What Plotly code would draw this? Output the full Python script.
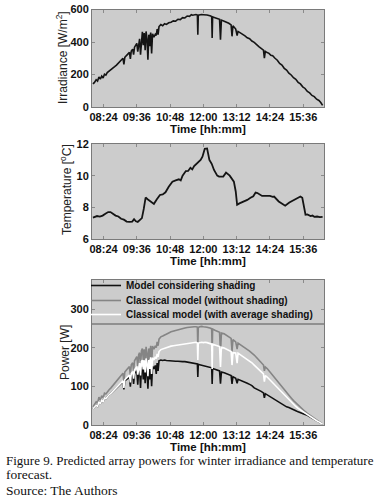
import plotly.graph_objects as go

# ---------------- data ----------------
# time in minutes after midnight
tick_vals = [504, 576, 648, 720, 792, 864, 936]
tick_text = ["08:24", "09:36", "10:48", "12:00", "13:12", "14:24", "15:36"]

t_pow = [481, 484, 488, 491, 494, 497, 500, 503, 506, 509, 512, 516, 520, 524, 528, 532, 536, 540, 544, 546,
         548, 550, 554, 558, 560, 562, 564, 567, 569, 571, 574, 576, 578, 580, 582, 584, 586, 588, 590, 592,
         594, 596, 598, 600, 602, 604, 606, 608, 610, 613, 616, 618, 620, 622, 624, 628, 632, 636, 640, 645,
         650, 655, 660, 665, 670, 675, 680, 685, 690, 694, 697, 700, 704, 707, 708, 709, 712, 716, 720, 724,
         728, 736, 738, 739, 740, 745, 750, 755, 757, 759, 765, 770, 775, 780, 782, 784, 790, 793, 795, 800,
         805, 810, 815, 820, 825, 830, 840, 845, 850, 852, 854, 858, 862, 866, 870, 875, 880, 885, 890, 895,
         900, 905, 910, 915, 920, 925, 930, 935, 940, 945, 950, 955, 960, 965, 970, 974, 976, 978]

irradiance = [142, 150, 168, 160, 185, 172, 190, 178, 202, 196, 212, 220, 228, 238, 248, 258, 270, 280, 292, 300,
              262, 305, 318, 330, 336, 296, 345, 356, 322, 368, 380, 392, 340, 405, 420, 322, 440, 462, 380, 455,
              350, 465, 420, 291, 445, 375, 458, 330, 450, 430, 448, 440, 480, 445, 495, 507, 500, 512, 508, 518,
              522, 530, 528, 540, 538, 550, 548, 560, 558, 568, 565, 567, 569, 566, 445, 565, 568, 569, 568, 569,
              566, 560, 555, 425, 555, 550, 545, 540, 414, 535, 528, 522, 515, 505, 435, 500, 480, 440, 465, 456,
              448, 438, 426, 420, 406, 398, 372, 362, 350, 300, 342, 335, 330, 318, 315, 300, 288, 268, 258, 238,
              227, 208, 197, 180, 170, 152, 142, 124, 114, 96, 87, 71, 64, 48, 40, 28, 22, 10]

p_shading = [42, 45, 51, 48, 60, 55, 64, 60, 70, 68, 73, 78, 82, 87, 91, 96, 101, 105, 110, 112,
             92, 114, 118, 122, 124, 99, 126, 130, 106, 133, 137, 140, 104, 143, 146, 96, 148, 150, 118, 150,
             108, 154, 135, 94, 148, 118, 155, 100, 152, 145, 154, 132, 160, 140, 166, 168, 167, 168, 167, 166,
             166, 165, 165, 165, 164, 164, 164, 163, 162, 161, 160, 160, 159, 158, 124, 157, 156, 155, 154, 153,
             152, 150, 148, 106, 146, 144, 142, 140, 107, 137, 135, 133, 131, 128, 106, 125, 121, 108, 118, 116,
             114, 111, 108, 105, 102, 96, 91, 87, 83, 70, 81, 78, 74, 71, 68, 64, 60, 56, 53, 50,
             47, 45, 43, 40, 37, 34, 31, 29, 27, 25, 21, 18, 15, 11, 8, 5, 3, 2]

p_classic = [47, 52, 60, 56, 72, 64, 76, 70, 82, 80, 86, 91, 96, 102, 106, 112, 118, 124, 130, 134,
             112, 137, 143, 148, 151, 128, 156, 161, 140, 166, 172, 177, 152, 182, 187, 150, 192, 198, 168, 196,
             160, 202, 186, 148, 198, 170, 205, 155, 204, 196, 205, 200, 215, 205, 222, 228, 230, 233, 236, 238,
             241, 243, 245, 247, 248, 250, 251, 252, 253, 254, 253, 254, 254, 253, 200, 252, 254, 255, 254, 254,
             253, 250, 248, 185, 248, 245, 242, 240, 186, 238, 236, 232, 228, 224, 190, 221, 215, 196, 212, 208,
             205, 200, 196, 191, 186, 181, 168, 161, 155, 140, 150, 146, 140, 134, 128, 120, 113, 106, 99, 91,
             84, 77, 70, 63, 57, 51, 46, 41, 35, 30, 26, 22, 18, 14, 10, 6, 4, 2]

p_average = [42, 45, 51, 48, 60, 55, 64, 60, 70, 68, 73, 78, 82, 87, 91, 96, 101, 106, 111, 114,
             96, 117, 122, 127, 129, 110, 133, 138, 120, 142, 147, 151, 130, 155, 160, 128, 164, 168, 144, 167,
             136, 172, 158, 126, 168, 145, 175, 132, 174, 168, 176, 172, 184, 176, 190, 195, 197, 199, 200, 202,
             204, 205, 206, 207, 208, 209, 210, 211, 212, 213, 212, 213, 214, 212, 168, 212, 213, 214, 213, 214,
             213, 211, 209, 145, 209, 207, 205, 203, 150, 201, 199, 196, 193, 190, 155, 187, 186, 160, 186, 182,
             179, 175, 171, 166, 161, 155, 143, 137, 132, 112, 128, 124, 119, 114, 109, 102, 96, 90, 84, 77,
             71, 65, 59, 53, 48, 43, 39, 34, 29, 25, 21, 18, 15, 11, 8, 5, 3, 2]

t_temp = [481, 484, 490, 496, 502, 508, 514, 519, 524, 530, 536, 542, 548, 554, 560, 566, 570, 574, 578, 583,
          587, 591, 595, 600, 606, 613, 619, 626, 632, 638, 645, 653, 660, 667, 671, 675, 682, 687, 692, 696,
          700, 706, 714, 718, 723, 728, 733, 738, 743, 750, 754, 763, 769, 777, 786, 790, 793, 798, 807, 815,
          822, 828, 833, 837, 847, 864, 870, 873, 883, 897, 906, 918, 930, 934, 941, 945, 949, 952, 956, 960,
          966, 972, 978]
temperature = [7.35, 7.40, 7.45, 7.42, 7.48, 7.60, 7.70, 7.70, 7.58, 7.48, 7.42, 7.28, 7.22, 7.10, 7.08, 7.10,
               7.25, 7.12, 7.08, 7.22, 7.32, 7.90, 8.62, 8.50, 8.35, 8.22, 8.50, 8.78, 8.82, 8.95, 9.30, 9.62,
               9.70, 9.77, 9.70, 10.00, 10.29, 10.30, 10.50, 10.40, 10.60, 10.78, 11.00, 11.20, 11.70, 11.72,
               11.00, 10.75, 10.36, 10.00, 9.94, 9.94, 10.19, 10.00, 9.62, 9.00, 8.16, 8.25, 8.35, 8.47, 8.60,
               8.70, 8.93, 8.90, 8.72, 8.72, 8.66, 8.68, 8.37, 8.10, 8.30, 8.50, 8.68, 8.60, 7.53, 7.55, 7.50,
               7.45, 7.48, 7.40, 7.42, 7.38, 7.40]

legend_names = ["Model considering shading", "Classical model (without shading)",
                "Classical model (with average shading)"]
y_titles = ["Irradiance [W/m<sup>2</sup>]", "Temperature [<sup>o</sup>C]", "Power [W]"]

# ---------------- figure ----------------
W, H = 377, 503
FONT = "Liberation Sans"
BG = "#cccccc"
FRAME = "#7a7a7a"


def ydom(top_px, bot_px):
    return [1 - bot_px / H, 1 - top_px / H]


xdom = [92 / W, 324 / W]

fig = go.Figure()
fig.add_trace(go.Scatter(x=t_pow, y=irradiance, mode="lines", line=dict(color="#141414", width=1.6),
                         xaxis="x", yaxis="y", showlegend=False))
fig.add_trace(go.Scatter(x=t_temp, y=temperature, mode="lines", line=dict(color="#141414", width=1.8),
                         xaxis="x2", yaxis="y2", showlegend=False))
fig.add_trace(go.Scatter(x=t_pow, y=p_shading, mode="lines", name=legend_names[0], legend="legend",
                         line=dict(color="#111111", width=1.6), xaxis="x3", yaxis="y3"))
fig.add_trace(go.Scatter(x=t_pow, y=p_classic, mode="lines", name=legend_names[1], legend="legend2",
                         line=dict(color="#858585", width=1.6), xaxis="x3", yaxis="y3"))
fig.add_trace(go.Scatter(x=t_pow, y=p_average, mode="lines", name=legend_names[2], legend="legend3",
                         line=dict(color="#ffffff", width=1.6), xaxis="x3", yaxis="y3"))

tickfont = dict(family=FONT, size=11, color="#111111", weight="bold")
titlefont_x = dict(family=FONT, size=11.5, color="#111111", weight="bold")
titlefont_y = dict(family=FONT, size=12, color="#222222")


def xax(anchor):
    return dict(domain=xdom, anchor=anchor, range=[479, 981], tickvals=tick_vals, ticktext=tick_text,
                ticks="inside", ticklen=3, tickcolor="#8a8a8a", mirror="ticks", showline=True,
                linecolor=FRAME, linewidth=1, showgrid=False, zeroline=False, tickfont=tickfont,
                automargin=False, title=dict(text="Time [hh:mm]", font=titlefont_x, standoff=2))


def yax(anchor, dom, rng, dtick):
    return dict(domain=dom, anchor=anchor, range=rng, dtick=dtick, ticks="inside", ticklen=3,
                tickcolor="#8a8a8a", mirror="ticks", showline=True, linecolor=FRAME, linewidth=1,
                showgrid=False, zeroline=False, tickfont=tickfont, automargin=False)


def leg(ycenter):
    return dict(x=86 / W, y=1 - ycenter / H, xanchor="left", yanchor="middle", bgcolor="rgba(0,0,0,0)",
                borderwidth=0, itemwidth=30,
                font=dict(family=FONT, size=10, color="#111111", weight="bold"))


fig.update_layout(
    width=W, height=H, margin=dict(l=0, r=0, t=0, b=0, pad=0, autoexpand=False),
    paper_bgcolor="white", plot_bgcolor=BG,
    xaxis=xax("y"), xaxis2=xax("y2"), xaxis3=xax("y3"),
    yaxis=yax("x", ydom(9.5, 107), [0, 600], 200),
    yaxis2=yax("x2", ydom(144, 239), [6, 12], 2),
    yaxis3=yax("x3", ydom(280, 425), [0, 375], 100),
    legend=leg(285.5), legend2=leg(300.5), legend3=leg(314.5),
    showlegend=True,
)

# rotated y-axis titles, placed beside each panel's tick labels
for txt, (xp, yp) in zip(y_titles, [(62, 58), (66, 190), (65, 353)]):
    fig.add_annotation(text=txt, xref="paper", yref="paper", x=xp / W, y=1 - yp / H, textangle=-90,
                       xanchor="center", yanchor="middle", showarrow=False, font=titlefont_y)

# legend separator line inside the power panel
fig.add_shape(type="line", xref="x3 domain", yref="paper", x0=0, x1=1,
              y0=1 - 324 / H, y1=1 - 324 / H, line=dict(color="#555555", width=1))

captions = ["Figure 9. Predicted array powers for winter irradiance and temperature",
            "forecast.", "Source: The Authors"]
cap_y = [460, 474, 490]
cap_size = [13, 13.5, 13.5]
for txt, yy, fs in zip(captions, cap_y, cap_size):
    fig.add_annotation(text=txt, xref="paper", yref="paper", x=4 / W, y=1 - yy / H,
                       xanchor="left", yanchor="middle", showarrow=False,
                       font=dict(family="Liberation Serif", size=fs, color="#111111"))

fig.write_html("out.html", config={"displayModeBar": False},
               post_script="document.body.style.margin='0px';")
